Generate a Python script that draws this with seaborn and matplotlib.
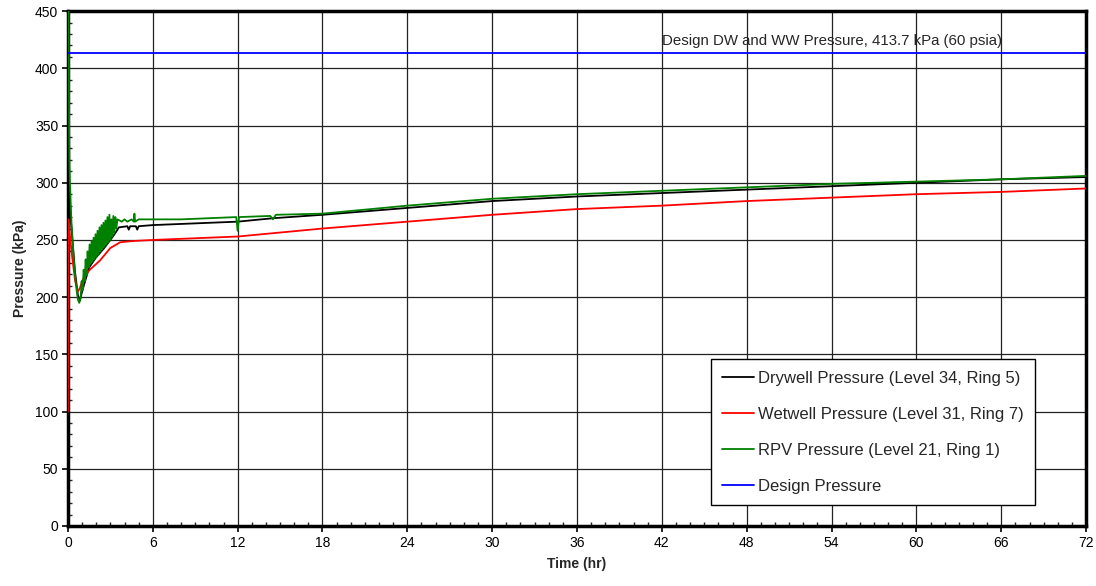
import numpy as np
import pandas as pd
import matplotlib
matplotlib.use("Agg")
import matplotlib.pyplot as plt
import seaborn as sns
from matplotlib.ticker import MultipleLocator

# ---- data ----
green_t = [0.0, 0.04, 0.07, 0.10, 0.14, 0.25, 0.4, 0.55, 0.7, 0.8,
           0.90, 0.97, 1.04, 1.11, 1.18, 1.25, 1.32, 1.39, 1.46, 1.53,
           1.60, 1.67, 1.74, 1.81, 1.88, 1.95, 2.02, 2.09, 2.16, 2.23,
           2.30, 2.37, 2.44, 2.51, 2.58, 2.65, 2.72, 2.79, 2.86, 2.93,
           3.00, 3.07, 3.14, 3.21, 3.28, 3.35, 3.42,
           3.5, 3.8, 4.0, 4.2, 4.5, 4.65, 4.7, 4.75, 5.0, 8.0, 11.9, 12.0,
           12.1, 14.3, 14.5, 14.7, 18, 24, 30, 36, 42, 48, 54, 60, 66, 72]
green_p = [470, 460, 380, 320, 300, 265, 235, 212, 198, 195,
           200, 214, 206, 224, 214, 233, 219, 240, 226, 246,
           229, 249, 231, 252, 233, 255, 235, 258, 237, 261,
           240, 263, 242, 265, 244, 267, 246, 270, 248, 272,
           250, 268, 253, 271, 256, 270, 260,
           268, 266, 268, 266, 268, 266, 273, 266, 268, 268, 270, 258,
           270, 271, 268, 272, 273, 280, 286, 290, 293, 296, 299, 301, 303, 306]

black_t = [0.0, 0.05, 0.1, 0.2, 0.35, 0.5, 0.7, 0.85, 1.0, 1.5, 2.0, 2.5,
           3.0, 3.4, 3.6, 4.2, 4.3, 4.4, 4.8, 4.9, 5.0, 6, 12, 14.5, 18, 24,
           30, 36, 42, 48, 54, 60, 66, 72]
black_p = [305, 300, 290, 268, 245, 222, 202, 197, 205, 226, 235, 242,
           250, 257, 261, 262, 259, 262, 262, 259, 262, 263, 266, 269, 272, 278,
           284, 288, 291, 294, 297, 300, 303, 305]

red_t = [0.0, 0.03, 0.1, 0.3, 0.5, 0.7, 0.85, 1.0, 1.2, 1.55, 2.26, 3.0,
         3.7, 4.5, 6, 12, 18, 24, 30, 36, 42, 48, 54, 60, 66, 72]
red_p = [100, 268, 258, 235, 215, 205, 208, 214, 219, 224, 232, 243,
         248, 249, 250, 253, 260, 266, 272, 277, 280, 284, 287, 290, 292, 295]

design_t = [0, 72]
design_p = [413.7, 413.7]

labels = ["Drywell Pressure (Level 34, Ring 5)",
          "Wetwell Pressure (Level 31, Ring 7)",
          "RPV Pressure (Level 21, Ring 1)",
          "Design Pressure"]
colors = ["#000000", "#ff0000", "#008000", "#0000ff"]

df = pd.concat([
    pd.DataFrame({"t": black_t, "p": black_p, "s": labels[0]}),
    pd.DataFrame({"t": red_t, "p": red_p, "s": labels[1]}),
    pd.DataFrame({"t": green_t, "p": green_p, "s": labels[2]}),
    pd.DataFrame({"t": design_t, "p": design_p, "s": labels[3]}),
], ignore_index=True)

sns.set_style("white")
plt.rcParams["font.family"] = ["Liberation Sans", "DejaVu Sans"]

fig = plt.figure(figsize=(10.96, 5.86), dpi=100)
ax = fig.add_axes([0.062, 0.1024, 0.929, 0.8786])

sns.lineplot(data=df, x="t", y="p", hue="s", hue_order=labels,
             palette=dict(zip(labels, colors)), sort=False,
             estimator=None, linewidth=1.3, ax=ax)

ax.set_xlim(0, 72)
ax.set_ylim(0, 450)
ax.xaxis.set_major_locator(MultipleLocator(6))
ax.xaxis.set_minor_locator(MultipleLocator(1))
ax.yaxis.set_major_locator(MultipleLocator(50))
ax.yaxis.set_minor_locator(MultipleLocator(10))
ax.grid(True, which="major", color="#222222", linewidth=0.9)
ax.set_axisbelow(True)
for sp in ax.spines.values():
    sp.set_visible(True)
    sp.set_color("black")
    sp.set_linewidth(2.5)
    sp.set_zorder(1.5)
ax.tick_params(which="major", direction="out", length=4, width=1.2,
               labelsize=10, colors="black", bottom=True, left=True, pad=3)
ax.tick_params(which="minor", direction="in", length=3, width=1.0,
               bottom=True, left=True)

ax.set_xlabel("Time (hr)", fontsize=10, fontweight="bold", labelpad=5)
ax.set_ylabel("Pressure (kPa)", fontsize=10, fontweight="bold", labelpad=6)

ax.text(42, 418, "Design DW and WW Pressure, 413.7 kPa (60 psia)",
        fontsize=10.8, ha="left", va="bottom")

leg = ax.legend(loc="lower right", bbox_to_anchor=(0.95, 0.041),
                borderaxespad=0.0,
                fontsize=12, frameon=True, fancybox=False, framealpha=1,
                edgecolor="black", handlelength=1.9, labelspacing=1.26,
                borderpad=0.68, handletextpad=0.25, title=None)
leg.get_frame().set_linewidth(1.0)
for line in leg.get_lines():
    line.set_linewidth(1.3)

fig.savefig("out.png", dpi=100)
